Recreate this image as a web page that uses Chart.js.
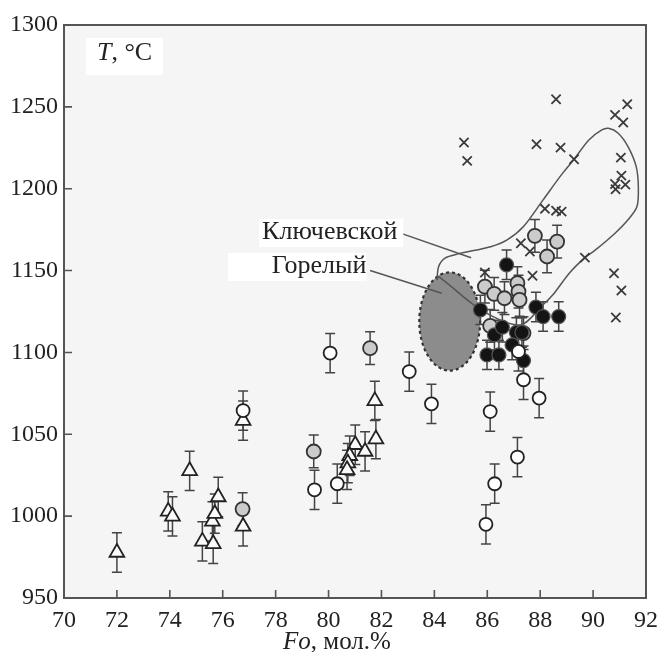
<!DOCTYPE html>
<html>
<head>
<meta charset="utf-8">
<script src="https://cdn.jsdelivr.net/npm/chart.js@4.4.0/dist/chart.umd.min.js"></script>
<style>
    html, body { margin: 0; padding: 0; background: #fff; }
    #chart { display: block; }
</style>
</head>
<body>
<canvas id="chart" width="666" height="652"></canvas>
<script>
// Данные: Fo (мол.%) и T (°C)
const xTicks = [70, 72, 74, 76, 78, 80, 82, 84, 86, 88, 90, 92];
const yTicks = [950, 1000, 1050, 1100, 1150, 1200, 1250, 1300];

// крестики (без погрешностей)
const crossFo = [88.60, 91.29, 90.83, 91.14, 85.12, 85.24, 87.86, 88.77, 89.28, 91.05, 91.07, 90.83, 91.22, 90.85,
    88.18, 88.60, 88.81, 87.27, 87.61, 89.69, 90.79, 91.07, 90.86, 85.91, 87.71];
const crossT = [1254.6, 1251.6, 1245.1, 1240.4, 1228.2, 1217.0, 1227.2, 1225.1, 1218.0, 1219.0, 1208.0, 1202.9, 1202.5, 1199.7,
    1187.7, 1186.6, 1186.0, 1166.7, 1161.6, 1157.9, 1148.4, 1137.8, 1121.3, 1148.8, 1146.8];

// открытые кружки
const openFo = [76.77, 79.47, 80.33, 80.06, 83.05, 83.89, 86.11, 87.37, 87.96, 87.18, 87.14, 86.28, 85.95];
const openT = [1064.5, 1016.1, 1019.8, 1099.6, 1088.3, 1068.6, 1063.9, 1083.3, 1072.1, 1100.6, 1036.1, 1019.8, 995.0];
const openErr = 12;

// серые кружки
const grayFo = [87.80, 88.64, 88.26, 85.91, 86.26, 86.65, 87.14, 87.18, 87.22, 86.11, 87.37, 81.57, 79.44, 76.75];
const grayT = [1171.2, 1167.7, 1158.6, 1140.2, 1135.8, 1133.1, 1142.3, 1137.2, 1132.1, 1116.2, 1111.8, 1102.6, 1039.5, 1004.3];
const grayErr = 10;

// чёрные кружки
const blackFo = [86.73, 85.74, 87.84, 88.11, 88.70, 86.27, 86.57, 87.10, 87.31, 86.94, 85.99, 86.44, 87.37];
const blackT = [1153.5, 1126.0, 1127.7, 1121.9, 1121.9, 1110.7, 1115.4, 1112.2, 1112.2, 1104.6, 1098.5, 1098.5, 1095.0];
const blackErr = 9;

// треугольники
const triFo = [72.00, 73.94, 74.10, 74.75, 75.23, 75.64, 75.61, 75.70, 75.83, 76.77, 76.77,
    81.75, 81.79, 81.01, 81.38, 80.80, 80.73, 80.70];
const triT = [977.8, 1002.9, 999.9, 1027.7, 984.6, 983.1, 996.8, 1001.5, 1011.7, 1058.4, 993.7,
    1070.4, 1047.1, 1043.6, 1039.5, 1036.9, 1032.4, 1028.3];
const triErr = 12;

// поле Ключевского вулкана (контур)
const fieldFo = [84.10, 84.16, 84.40, 84.90, 86.13, 86.75, 87.37, 88.11, 88.85, 89.28, 89.84, 90.33, 90.58, 90.95,
    91.32, 91.63, 91.71, 91.66, 91.32, 90.83, 90.09, 89.69, 89.10, 88.48, 88.11, 87.24, 85.76, 84.16, 84.10];
const fieldT = [1144.3, 1152.4, 1157.6, 1160.2, 1164.6, 1168.7, 1176.9, 1193.2, 1209.5, 1218.0, 1229.8, 1235.9, 1236.9, 1233.9,
    1225.7, 1213.5, 1201.3, 1189.1, 1181.0, 1172.8, 1162.6, 1157.9, 1148.4, 1135.2, 1129.1, 1116.8, 1126.0, 1146.3, 1144.3];

// поле Горелого (эллипс): центр и полуоси
const gorelyCenter = [84.58, 1118.9];
const gorelyRadius = [1.15, 30];

const serif = "'Liberation Serif', 'Times New Roman', serif";

function pts(xs, ys) {
    return xs.map((v, i) => ({ x: v, y: ys[i] }));
}

// Фон, рамка и засечки внутрь
const framePlugin = {
    id: 'frame',
    beforeDraw(chart) {
        const { ctx, chartArea: a } = chart;
        ctx.save();
        ctx.fillStyle = '#f5f5f5';
        ctx.fillRect(a.left, a.top, a.right - a.left, a.bottom - a.top);
        ctx.restore();
    },
    afterDraw(chart) {
        const { ctx, chartArea: a, scales: { x, y } } = chart;
        ctx.save();
        ctx.strokeStyle = '#555';
        ctx.lineWidth = 2;
        ctx.strokeRect(a.left, a.top, a.right - a.left, a.bottom - a.top);
        ctx.lineWidth = 1.6;
        ctx.beginPath();
        xTicks.forEach(v => {
            const px = x.getPixelForValue(v);
            ctx.moveTo(px, a.bottom);
            ctx.lineTo(px, a.bottom - 8);
        });
        yTicks.forEach(v => {
            const py = y.getPixelForValue(v);
            ctx.moveTo(a.left, py);
            ctx.lineTo(a.left + 8, py);
        });
        ctx.stroke();
        ctx.restore();
    }
};

// Эллипс Горелого и погрешности под маркерами
const underPlugin = {
    id: 'under',
    beforeDatasetsDraw(chart) {
        const { ctx, scales: { x, y } } = chart;
        ctx.save();
        const cx = x.getPixelForValue(gorelyCenter[0]);
        const cy = y.getPixelForValue(gorelyCenter[1]);
        const rx = x.getPixelForValue(gorelyCenter[0] + gorelyRadius[0]) - cx;
        const ry = cy - y.getPixelForValue(gorelyCenter[1] + gorelyRadius[1]);
        ctx.beginPath();
        ctx.ellipse(cx, cy, rx, ry, 0, 0, Math.PI * 2);
        ctx.fillStyle = '#8c8c8c';
        ctx.fill();
        ctx.setLineDash([3, 3]);
        ctx.strokeStyle = '#333';
        ctx.lineWidth = 2.2;
        ctx.stroke();
        ctx.setLineDash([]);

        ctx.strokeStyle = '#444';
        ctx.lineWidth = 1.5;
        chart.data.datasets.forEach(ds => {
            if (!ds.err) return;
            ds.data.forEach(p => {
                const px = x.getPixelForValue(p.x);
                const top = y.getPixelForValue(p.y + ds.err);
                const bot = y.getPixelForValue(p.y - ds.err);
                ctx.beginPath();
                ctx.moveTo(px, top); ctx.lineTo(px, bot);
                ctx.moveTo(px - 5, top); ctx.lineTo(px + 5, top);
                ctx.moveTo(px - 5, bot); ctx.lineTo(px + 5, bot);
                ctx.stroke();
            });
        });
        ctx.restore();
    }
};

// Подписи
const labelPlugin = {
    id: 'labels',
    afterDraw(chart) {
        const { ctx, scales: { x, y } } = chart;
        ctx.save();
        ctx.textBaseline = 'middle';

        // T, °C
        ctx.fillStyle = '#fff';
        ctx.fillRect(86, 38, 77, 37);
        ctx.fillStyle = '#222';
        ctx.font = 'italic 26px ' + serif;
        ctx.textAlign = 'left';
        ctx.fillText('T', 97, 53);
        const tw = ctx.measureText('T').width;
        ctx.font = '26px ' + serif;
        ctx.fillText(', °C', 97 + tw, 53);

        // Fo, мол.%
        ctx.font = 'italic 25px ' + serif;
        const fw = ctx.measureText('Fo').width;
        ctx.font = '25px ' + serif;
        const rw = ctx.measureText(', мол.%').width;
        const sx = 337 - (fw + rw) / 2;
        ctx.font = 'italic 25px ' + serif;
        ctx.fillText('Fo', sx, 642);
        ctx.font = '25px ' + serif;
        ctx.fillText(', мол.%', sx + fw, 642);

        // выноски
        ctx.strokeStyle = '#555';
        ctx.lineWidth = 1.5;
        ctx.beginPath();
        ctx.moveTo(x.getPixelForValue(82.80), y.getPixelForValue(1172.4));
        ctx.lineTo(x.getPixelForValue(85.39), y.getPixelForValue(1157.8));
        ctx.moveTo(x.getPixelForValue(81.57), y.getPixelForValue(1150.0));
        ctx.lineTo(x.getPixelForValue(84.28), y.getPixelForValue(1136.2));
        ctx.stroke();

        ctx.font = '26px ' + serif;
        ctx.textAlign = 'right';
        let px = x.getPixelForValue(82.60), py = y.getPixelForValue(1173.6);
        let w = ctx.measureText('Ключевской').width;
        ctx.fillStyle = '#fff';
        ctx.fillRect(px - w - 3, py - 13, w + 9, 28);
        ctx.fillStyle = '#222';
        ctx.fillText('Ключевской', px, py);

        px = x.getPixelForValue(81.43); py = y.getPixelForValue(1152.9);
        ctx.fillStyle = '#fff';
        ctx.fillRect(228, py - 13, px - 228, 28);
        ctx.fillStyle = '#222';
        ctx.fillText('Горелый', px, py);
        ctx.restore();
    }
};

new Chart(document.getElementById('chart'), {
    type: 'scatter',
    data: {
        datasets: [
            {
                label: 'open',
                data: pts(openFo, openT),
                err: openErr,
                pointStyle: 'circle',
                pointRadius: 6.5,
                backgroundColor: '#fff',
                borderColor: '#222',
                borderWidth: 1.8,
                order: 1
            },
            {
                label: 'black',
                data: pts(blackFo, blackT),
                err: blackErr,
                pointStyle: 'circle',
                pointRadius: 7,
                backgroundColor: '#141414',
                borderColor: '#555',
                borderWidth: 1.2,
                order: 2
            },
            {
                label: 'gray',
                data: pts(grayFo, grayT),
                err: grayErr,
                pointStyle: 'circle',
                pointRadius: 7,
                backgroundColor: '#cbcbcb',
                borderColor: '#333',
                borderWidth: 1.8,
                order: 3
            },
            {
                label: 'tri',
                data: pts(triFo, triT),
                err: triErr,
                pointStyle: 'triangle',
                pointRadius: 8.5,
                backgroundColor: '#fafafa',
                borderColor: '#222',
                borderWidth: 1.8,
                order: 4
            },
            {
                label: 'cross',
                data: pts(crossFo, crossT),
                pointStyle: 'crossRot',
                pointRadius: 6.5,
                borderColor: '#3a3a3a',
                borderWidth: 1.8,
                order: 5
            },
            {
                label: 'field',
                data: pts(fieldFo, fieldT),
                showLine: true,
                pointRadius: 0,
                borderColor: '#555',
                borderWidth: 1.5,
                tension: 0.3,
                fill: false,
                order: 6
            }
        ]
    },
    options: {
        responsive: false,
        animation: false,
        devicePixelRatio: 1,
        layout: { padding: { left: 0, right: 8, top: 25, bottom: 0 } },
        plugins: {
            legend: { display: false },
            tooltip: { enabled: false }
        },
        scales: {
            x: {
                type: 'linear',
                min: 70,
                max: 92,
                afterBuildTicks: (scale) => { scale.ticks = xTicks.map(v => ({ value: v })); },
                afterFit: (scale) => { scale.height = 54; },
                grid: { display: false, drawTicks: false },
                border: { display: false },
                ticks: {
                    padding: 8,
                    color: '#222',
                    font: { family: serif, size: 24 },
                    callback: (v) => String(v)
                }
            },
            y: {
                type: 'linear',
                min: 950,
                max: 1300,
                afterBuildTicks: (scale) => { scale.ticks = yTicks.map(v => ({ value: v })); },
                afterFit: (scale) => { scale.width = 64; },
                grid: { display: false, drawTicks: false },
                border: { display: false },
                ticks: {
                    padding: 6,
                    color: '#222',
                    font: { family: serif, size: 24 },
                    callback: (v) => String(v)
                }
            }
        }
    },
    plugins: [framePlugin, underPlugin, labelPlugin]
});
</script>
</body>
</html>
